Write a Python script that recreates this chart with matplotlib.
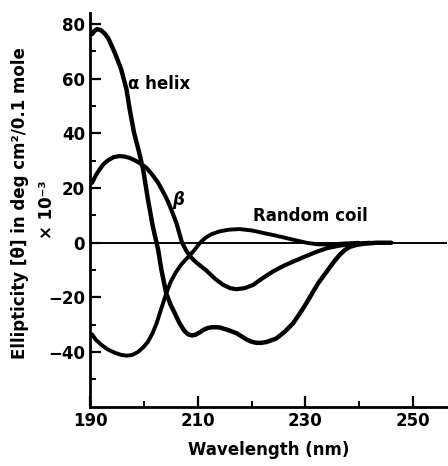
import matplotlib.pyplot as plt

# CD spectra of polypeptide conformations
alpha_x = [190.3, 190.7, 191.2, 191.9, 192.6, 193.3, 194.5, 195.7, 196.7, 197.3,
           198.1, 199.0, 199.8, 200.7, 201.6, 202.6, 203.2, 204.1, 204.9, 205.7,
           206.6, 207.5, 208.2, 208.9, 209.6, 210.3, 211.0, 211.8, 212.6, 213.4,
           214.1, 215.6, 217.2, 219.0, 220.0, 220.9, 221.8, 222.8, 224.6, 226.2,
           227.7, 229.0, 230.2, 231.3, 232.4, 234.0, 235.3, 236.4, 237.4, 238.3,
           239.5, 240.8, 243.2, 246.0]
alpha_y = [76.3, 77.4, 78.1, 77.8, 76.6, 74.8, 69.6, 63.5, 56.1, 48.8,
           40.3, 33.5, 26.8, 15.8, 6.0, -2.6, -9.9, -18.5, -22.6, -25.8,
           -29.5, -32.3, -33.5, -33.9, -33.6, -32.8, -31.9, -31.2, -30.9, -30.9,
           -31.0, -31.9, -33.1, -35.3, -36.2, -36.6, -36.6, -36.3, -35.0, -32.5,
           -29.5, -25.8, -22.1, -18.4, -14.8, -10.5, -7.0, -4.4, -2.6, -1.5,
           -0.8, -0.4, 0.0, 0.0]

beta_x = [190.3, 191.0, 191.7, 192.4, 193.3, 194.3, 195.4, 196.4, 197.3, 198.2,
          199.3, 200.4, 201.5, 202.6, 203.5, 204.4, 205.2, 206.0, 207.0, 207.8,
          208.5, 209.3, 210.2, 211.6, 213.2, 214.7, 216.0, 217.2, 218.7, 220.3,
          222.0, 224.0, 225.8, 227.7, 230.0, 232.1, 234.0, 236.5, 239.0, 242.0]
beta_y = [21.9, 24.7, 26.8, 28.7, 30.2, 31.3, 31.7, 31.5, 31.0, 30.2,
          29.0, 27.4, 24.9, 21.9, 18.7, 15.2, 11.3, 7.2, 0.3, -2.8,
          -4.8, -6.5, -8.0, -10.2, -13.2, -15.4, -16.6, -17.0, -16.6, -15.4,
          -13.0, -10.5, -8.6, -6.9, -5.0, -3.3, -2.0, -1.0, -0.4, 0.0]

coil_x = [190.3, 191.0, 192.0, 193.2, 194.5, 195.7, 196.8, 197.8, 198.8, 199.8,
          200.7, 201.5, 202.3, 203.2, 204.1, 205.0, 205.9, 206.8, 207.7, 208.5,
          209.5, 210.4, 211.4, 212.5, 214.1, 215.9, 217.8, 220.0, 222.1, 224.3,
          226.5, 228.4, 230.2, 232.4, 234.5, 237.0, 240.0]
coil_y = [-33.5, -35.5, -37.3, -39.0, -40.2, -41.0, -41.3, -41.0, -40.0, -38.3,
          -36.2, -33.3, -29.5, -24.0, -18.5, -14.0, -10.8, -8.2, -6.2, -4.6,
          -2.3, 0.0, 1.8, 3.1, 4.2, 4.8, 5.0, 4.5, 3.6, 2.7,
          1.7, 0.8, 0.0, -0.6, -0.6, -0.3, 0.0]

x_major = [190, 210, 230, 250]
x_minor = [200, 220, 240]
y_major = [-40, -20, 0, 20, 40, 60, 80]
y_minor = [-50, -30, -10, 10, 30, 50, 70]

plt.rcParams['font.family'] = ['DejaVu Sans']
plt.rcParams['font.weight'] = 'bold'

fig = plt.figure(figsize=(4.48, 4.66), dpi=100)
ax = fig.add_axes([0.202, 0.127, 0.796, 0.845])

ax.axhline(0, color='black', lw=1.4, zorder=1)
ax.plot(alpha_x, alpha_y, color='black', lw=3.2, solid_capstyle='round', solid_joinstyle='round')
ax.plot(beta_x, beta_y, color='black', lw=3.0, solid_capstyle='round', solid_joinstyle='round')
ax.plot(coil_x, coil_y, color='black', lw=2.8, solid_capstyle='round', solid_joinstyle='round')

ax.text(197.0, 56.1, 'α helix', fontsize=12, fontweight='bold', va='baseline')
ax.text(205.2, 13.9, 'β', fontsize=12, fontweight='bold', style='italic', va='baseline')
ax.text(220.2, 7.8, 'Random coil', fontsize=12, fontweight='bold', va='baseline')

ax.set_xlim(190, 256.4)
ax.set_ylim(-60, 84)
ax.set_xticks(x_major)
ax.set_xticks(x_minor, minor=True)
ax.set_yticks(y_major)
ax.set_yticks(y_minor, minor=True)

ax.spines['top'].set_visible(False)
ax.spines['right'].set_visible(False)
ax.spines['left'].set_linewidth(2.0)
ax.spines['bottom'].set_linewidth(2.0)
ax.tick_params(which='major', direction='in', length=8, width=1.6, labelsize=12, pad=4)
ax.tick_params(which='minor', direction='in', length=4.5, width=1.4)

ax.set_xlabel('Wavelength (nm)', fontsize=12, fontweight='bold', labelpad=8)
fig.text(20 / 448, 1 - 203 / 466, 'Ellipticity [θ] in deg cm²/0.1 mole',
         rotation=90, fontsize=12, fontweight='bold', ha='center', va='center')
fig.text(47 / 448, 1 - 210 / 466, '× 10⁻³',
         rotation=90, fontsize=12, fontweight='bold', ha='center', va='center')

fig.savefig('out.png', dpi=100)
